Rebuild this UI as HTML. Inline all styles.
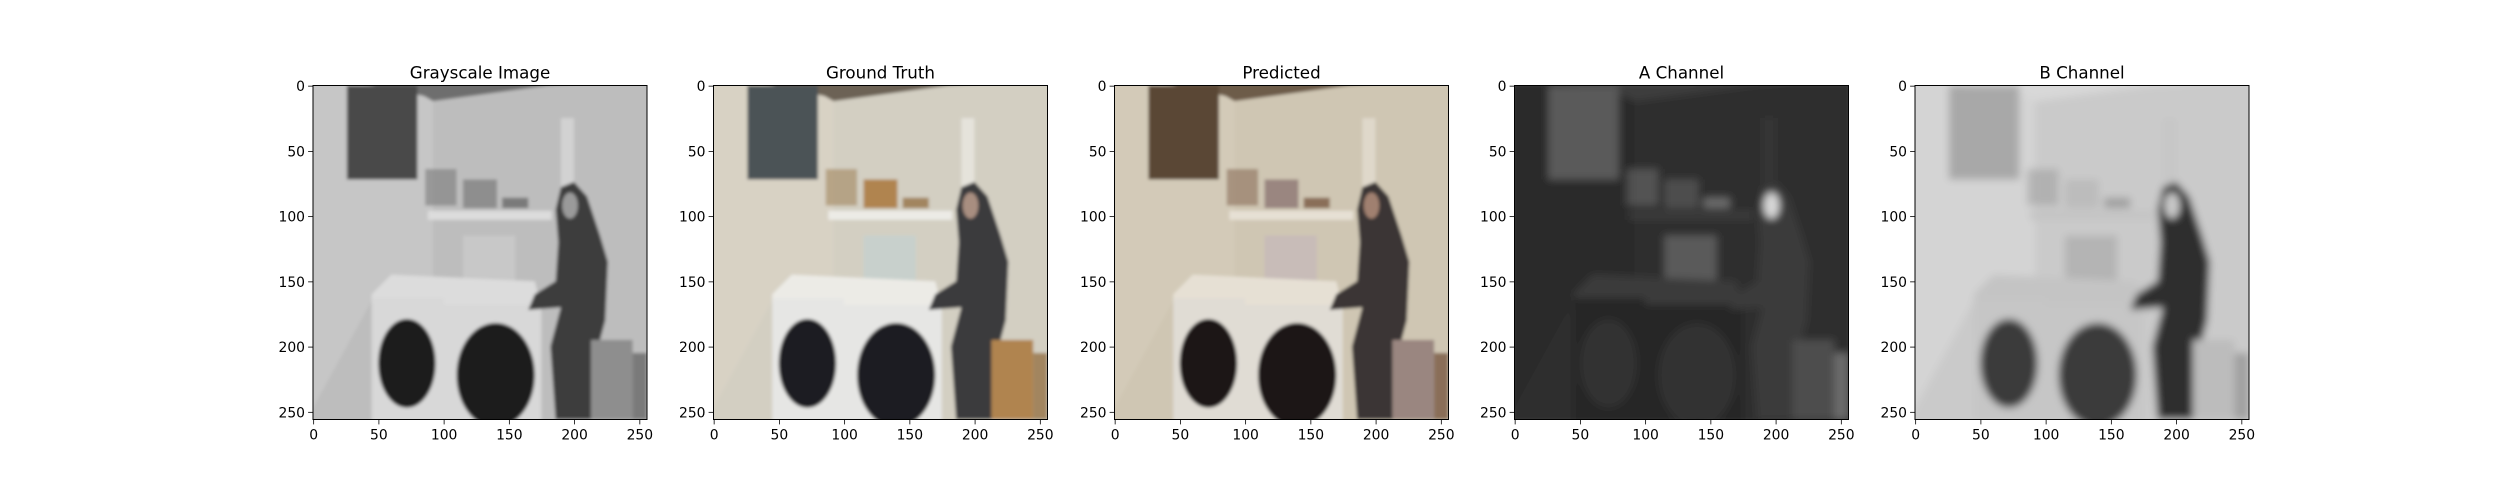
<!DOCTYPE html>
<html><head><meta charset="utf-8">
<style>
html,body{margin:0;padding:0;background:#fff;}
svg{display:block;font-family:"DejaVu Sans","Liberation Sans",sans-serif;}
</style></head>
<body>
<svg id="fig" width="2500" height="500" viewBox="0 0 2500 500" xmlns="http://www.w3.org/2000/svg">
<defs>
<filter id="blur1"><feGaussianBlur stdDeviation="1.2"/></filter>
<filter id="blur3"><feGaussianBlur stdDeviation="3"/></filter>
</defs>
</svg>
<script>
const panelTitles = ["Grayscale Image","Ground Truth","Predicted","A Channel","B Channel"];
const xTicks = [0,50,100,150,200,250];
const yTicks = [0,50,100,150,200,250];
const panelLefts = [313,713.5,1114.5,1514.5,1915];
const AX_TOP = 85.5, AX_SIZE = 334, N = 256;

// palettes: wall, wallL(left wall), ceil, window, shelf, machine, door, person, face, basket, items, towels
const palettes = [
 {wall:"#bdbdbd",wallL:"#c6c6c6",ceil:"#6e6e6e",win:"#4a4a4a",shelf:"#dcdcdc",mach:"#d8d8d8",door:"#1c1c1c",person:"#3e3e3e",face:"#9a9a9a",basket:"#8e8e8e",items:"#7a7a7a",towel:"#c8c8c8",filt:"blur1"},
 {wall:"#d3cfc2",wallL:"#d8d2c4",ceil:"#6c6254",win:"#4c5356",shelf:"#ecebe6",mach:"#e6e6e4",door:"#1a1a22",person:"#3a3a3e",face:"#a88e80",basket:"#b08450",items:"#a2855e",towel:"#c8d0cc",filt:"blur1"},
 {wall:"#cfc6b3",wallL:"#d3cab8",ceil:"#6d5c49",win:"#5a4634",shelf:"#e6e0d4",mach:"#e0dcd4",door:"#1a1818",person:"#3b3634",face:"#a08070",basket:"#9a8680",items:"#8a6e58",towel:"#c8bcb8",filt:"blur1"},
 {wall:"#2e2e2e",wallL:"#2a2a2a",ceil:"#3e3e3e",win:"#5a5a5a",shelf:"#3a3a3a",mach:"#262626",door:"#333333",person:"#3a3a3a",face:"#d8d8d8",basket:"#4e4e4e",items:"#6a6a6a",towel:"#5a5a5a",filt:"blur3"},
 {wall:"#cacaca",wallL:"#d4d4d4",ceil:"#d8d8d8",win:"#a8a8a8",shelf:"#c4c4c4",mach:"#c6c6c6",door:"#3a3a3a",person:"#2e2e2e",face:"#c8c8c8",basket:"#bcbcbc",items:"#a0a0a0",towel:"#b4b4b4",filt:"blur3"}
];

const NS = "http://www.w3.org/2000/svg";
const fig = document.getElementById("fig");
function mk(tag, attrs, parent){const e=document.createElementNS(NS,tag);for(const k in attrs)e.setAttribute(k,attrs[k]);parent.appendChild(e);return e;}

panelTitles.forEach((title, i) => {
  const L = panelLefts[i], s = AX_SIZE / N;
  const P = palettes[i];
  const g = mk("g", {}, fig);
  
  
  // image
  const img = mk("g", {transform:`translate(${L},${AX_TOP}) scale(${s})`}, g);
  
  
  const clipId = "clip"+i;
  const cp = mk("clipPath",{id:clipId},img); mk("rect",{x:0,y:0,width:256,height:256},cp);
  const inner = mk("g",{"clip-path":`url(#${clipId})`},img);
  const sc = mk("g",{filter:`url(#${P.filt})`},inner);
  mk("rect",{x:-5,y:-5,width:266,height:266,fill:P.wall},sc);
  mk("polygon",{points:"-5,-5 92,-5 92,160 45,165 -5,256",fill:P.wallL},sc);
  mk("polygon",{points:"25,-5 250,-5 180,0 92,12 85,8",fill:P.ceil},sc);
  mk("rect",{x:26,y:0,width:54,height:72,fill:P.win},sc);
  mk("rect",{x:86,y:64,width:24,height:28,fill:P.items,opacity:0.6},sc);
  mk("rect",{x:115,y:72,width:26,height:22,fill:P.basket},sc);
  mk("rect",{x:145,y:86,width:20,height:8,fill:P.items},sc);
  mk("rect",{x:88,y:96,width:95,height:7,fill:P.shelf},sc);
  mk("rect",{x:190,y:25,width:10,height:55,fill:P.shelf,opacity:0.7},sc);
  mk("rect",{x:115,y:115,width:40,height:45,fill:P.towel},sc);
  mk("polygon",{points:"45,160 60,145 170,150 175,170 45,167",fill:P.shelf},sc);
  mk("rect",{x:45,y:163,width:55,height:95,fill:P.mach},sc);
  mk("rect",{x:100,y:168,width:75,height:90,fill:P.mach},sc);
  mk("ellipse",{cx:72,cy:213,rx:22,ry:34,fill:P.door},sc);
  mk("ellipse",{cx:140,cy:222,rx:30,ry:40,fill:P.door},sc);
  mk("polygon",{points:"186,95 190,78 200,74 210,85 220,115 226,135 224,180 216,210 214,256 186,256 182,200 190,170 165,172 170,160 186,150 188,120",fill:P.person},sc);
  mk("ellipse",{cx:197,cy:92,rx:6,ry:10,fill:P.face},sc);
  mk("rect",{x:213,y:195,width:32,height:61,fill:P.basket},sc);
  mk("rect",{x:245,y:205,width:11,height:51,fill:P.items},sc);
  // frame
  const fr = mk("rect",{x:L,y:AX_TOP,width:AX_SIZE,height:AX_SIZE,fill:"none",stroke:"#000","stroke-width":1},g);
  
  
  // title
  const t = mk("text",{x:L+AX_SIZE/2,y:AX_TOP-7,"text-anchor":"middle","font-size":"16.7px",fill:"#000"},g);
  t.textContent = title;
  
  
  // x ticks
  xTicks.forEach(v => {
    const x = L + (v + 0.5) * s;
    const tk = mk("line",{x1:x,y1:AX_TOP+AX_SIZE,x2:x,y2:AX_TOP+AX_SIZE+4.9,stroke:"#000","stroke-width":0.8},g);
    
    
    const lb = mk("text",{x:x,y:AX_TOP+AX_SIZE+20,"text-anchor":"middle","font-size":"13.9px",fill:"#000"},g);
    lb.textContent = v;
    
    
  });
  yTicks.forEach(v => {
    const y = AX_TOP + (v + 0.5) * s;
    const tk = mk("line",{x1:L-4.9,y1:y,x2:L,y2:y,stroke:"#000","stroke-width":0.8},g);
    
    
    const lb = mk("text",{x:L-8,y:y+5,"text-anchor":"end","font-size":"13.9px",fill:"#000"},g);
    lb.textContent = v;
    
    
  });
});
</script>
</body></html>
